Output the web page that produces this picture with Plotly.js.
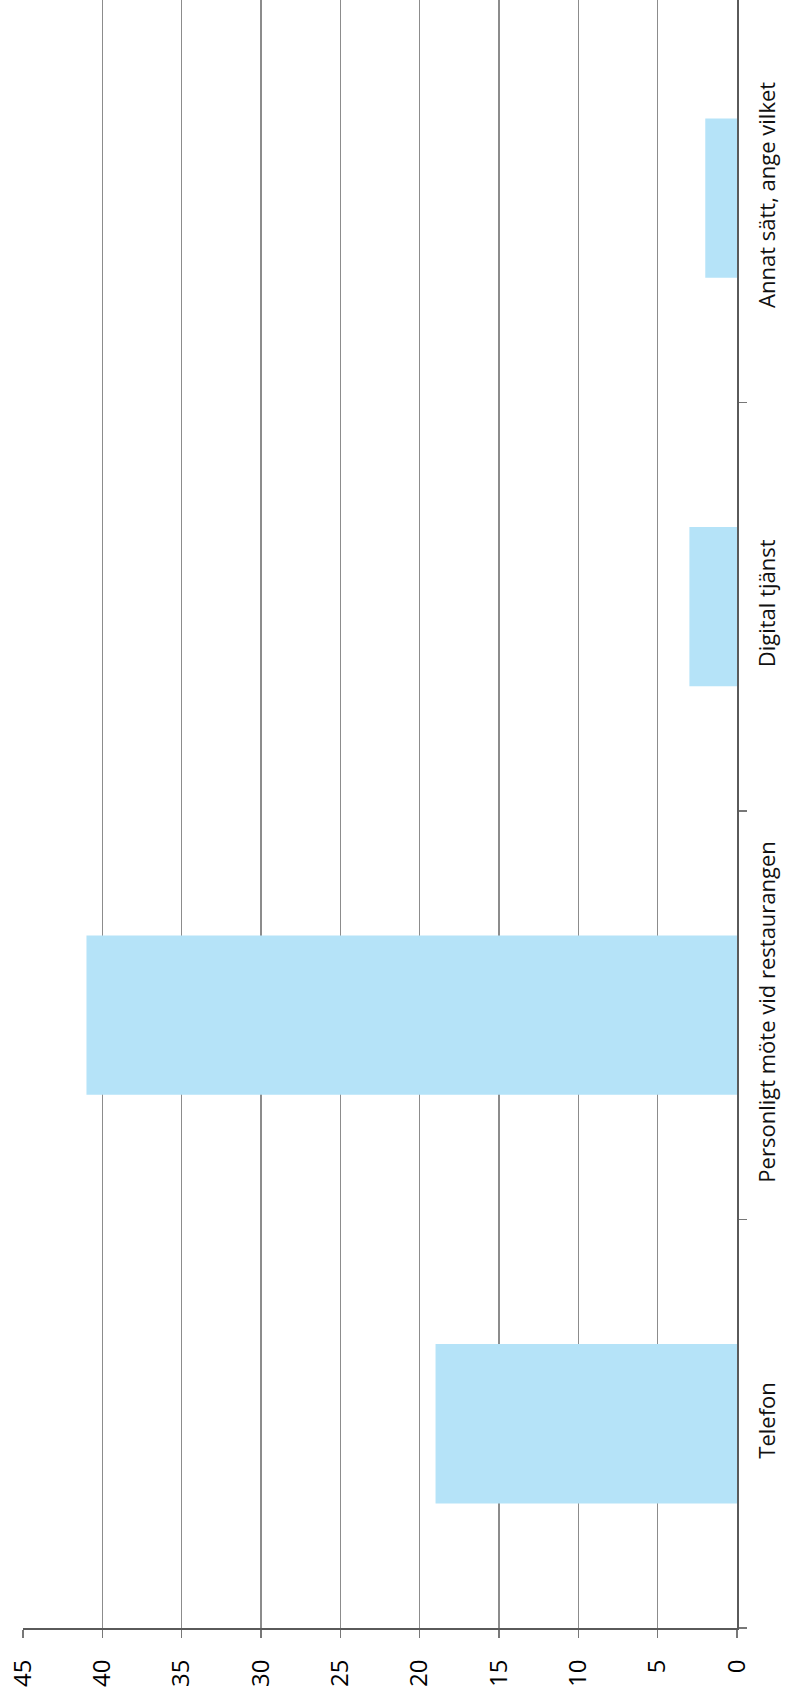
<!DOCTYPE html>
<html>
<head>
<meta charset="utf-8">
<script src="https://cdn.plot.ly/plotly-3.0.1.min.js"></script>
<style>
  html, body { margin: 0; padding: 0; background: #ffffff; }
  #chart { width: 786px; height: 1699px; }
</style>
</head>
<body>
<div id="chart"></div>
<script>
// Data (categories bottom to top as drawn)
const categories = ["Telefon", "Personligt möte vid restaurangen", "Digital tjänst", "Annat sätt, ange vilket"];
const values = [19, 41, 3, 2];
const valueTicks = [0, 5, 10, 15, 20, 25, 30, 35, 40, 45];

const trace = {
  type: "bar",
  orientation: "h",
  y: categories,
  x: values,
  marker: { color: "#b5e3f8", line: { width: 0 } },
  hoverinfo: "none"
};

const layout = {
  width: 786,
  height: 1699,
  margin: { l: 23, r: 49, t: 0, b: 71, pad: 0 },
  paper_bgcolor: "#ffffff",
  plot_bgcolor: "#ffffff",
  showlegend: false,
  bargap: 0.61,
  font: { family: "Open Sans, sans-serif", size: 22, color: "#111111" },
  xaxis: {
    range: [45, 0],
    tickmode: "array",
    tickvals: valueTicks,
    ticktext: valueTicks.map(String),
    tickangle: -90,
    showgrid: true,
    gridcolor: "#8c8c8c",
    gridwidth: 1.5,
    zeroline: false,
    showline: true,
    linecolor: "#5a5a5a",
    linewidth: 2,
    ticks: "outside",
    ticklen: 8,
    tickcolor: "#777777",
    tickwidth: 1.5,
    ticklabelstandoff: 12,
    tickfont: { family: "Open Sans, sans-serif", size: 24, color: "#000000" },
    fixedrange: true
  },
  yaxis: {
    type: "category",
    categoryorder: "array",
    categoryarray: categories,
    range: [-0.5, 3.485],
    side: "right",
    tickangle: -90,
    tickson: "boundaries",
    ticks: "outside",
    ticklen: 8,
    tickcolor: "#777777",
    tickwidth: 1.5,
    ticklabelstandoff: 10,
    showgrid: false,
    zeroline: false,
    showline: true,
    linecolor: "#5a5a5a",
    linewidth: 2,
    tickfont: { family: "Open Sans, sans-serif", size: 22, color: "#111111" },
    fixedrange: true
  }
};

Plotly.newPlot("chart", [trace], layout, { staticPlot: true, displayModeBar: false });
</script>
</body>
</html>
